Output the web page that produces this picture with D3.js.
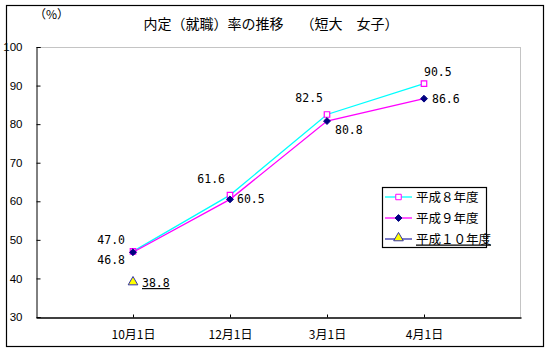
<!DOCTYPE html>
<html>
<head>
<meta charset="utf-8">
<script src="https://cdn.jsdelivr.net/npm/d3@7"></script>
<style>
body { margin: 0; background: #fff; }
</style>
</head>
<body>
<svg width="550" height="354"></svg>
<script>
// categories and values
var categories = ['10月1日', '12月1日', '3月1日', '4月1日'];
var h8 = [47.0, 61.6, 82.5, 90.5];
var h9 = [46.8, 60.5, 80.8, 86.6];
var h10 = [38.8, null, null, null];
var yTicks = [30, 40, 50, 60, 70, 80, 90, 100];
var seriesNames = ['平成８年度', '平成９年度', '平成１０年度'];

var jp = '"Noto Sans CJK JP", sans-serif';
var mono = '"DejaVu Sans Mono", "Liberation Mono", monospace';
var num = '"Liberation Sans", Arial, sans-serif';

var svg = d3.select("svg");

var x = d3.scalePoint()
	.domain(categories)
	.range([36, 521])
	.padding(1);

var y = d3.scaleLinear()
	.domain([30, 100])
	.range([317, 47]);

// outer frame
svg.append("rect")
	.attr("x", 6.5).attr("y", 5.5)
	.attr("width", 537).attr("height", 341)
	.attr("fill", "none").attr("stroke", "#000").attr("stroke-width", 1.2);

// plot area top/right dotted border
svg.append("path")
	.attr("d", "M36.5,47.5 H520.5 V317")
	.attr("fill", "none").attr("stroke", "#888").attr("stroke-dasharray", "1,1");

// axes
var yAxis = d3.axisLeft(y).tickValues(yTicks).tickSize(-4).tickPadding(14);
var gy = svg.append("g").attr("transform", "translate(36.5,0)").call(yAxis);
gy.select(".domain").attr("stroke", "#000");
gy.selectAll("text").attr("font-size", 11.5).attr("font-family", num).attr("fill", "#000");

var xAxis = d3.axisBottom(x).tickSize(-3).tickPadding(13).tickSizeOuter(0);
var gx = svg.append("g").attr("transform", "translate(0,317.5)").call(xAxis);
gx.select(".domain").attr("stroke", "#000").attr("stroke-width", 1.3);
gx.selectAll("text").attr("font-size", 12).attr("font-family", jp).attr("fill", "#000");

// title and unit
svg.append("text").attr("x", 271).attr("y", 29).attr("text-anchor", "middle")
	.attr("font-family", jp).attr("font-size", 14).text("内定（就職）率の推移　 （短大　女子）");
svg.append("text").attr("x", 34).attr("y", 19).attr("font-family", jp).attr("font-size", 12).text("（%）");

var line = d3.line()
	.defined(function(d) { return d != null; })
	.x(function(d, i) { return x(categories[i]); })
	.y(function(d) { return y(d); });

svg.append("path").datum(h8).attr("d", line)
	.attr("fill", "none").attr("stroke", "#00ffff").attr("stroke-width", 1.3);
svg.append("path").datum(h9).attr("d", line)
	.attr("fill", "none").attr("stroke", "#ff00ff").attr("stroke-width", 1.3);

var sq = d3.symbol().type(d3.symbolSquare).size(30);
var dm = d3.symbol().type(d3.symbolDiamond2).size(30);
var tri = d3.symbol().type(d3.symbolTriangle).size(40);

svg.append("g").selectAll("path").data(h8).enter().append("path")
	.attr("d", sq)
	.attr("transform", function(d, i) { return "translate(" + x(categories[i]) + "," + y(d) + ")"; })
	.attr("fill", "#fff").attr("stroke", "#ff00ff").attr("stroke-width", 1.2);
svg.append("g").selectAll("path").data(h9).enter().append("path")
	.attr("d", dm)
	.attr("transform", function(d, i) { return "translate(" + x(categories[i]) + "," + y(d) + ")"; })
	.attr("fill", "#000080").attr("stroke", "#000080");
svg.append("g").selectAll("path").data(h10.filter(function(d) { return d != null; })).enter().append("path")
	.attr("d", tri)
	.attr("transform", function(d, i) { return "translate(" + x(categories[i]) + "," + (y(d) - 1) + ")"; })
	.attr("fill", "#ffff00").attr("stroke", "#3333aa").attr("stroke-width", 1);

// data labels: offsets dx, dy, anchor
function fmt(v) { return v.toFixed(1); }
var labelPos8 = [[-8, -7, "end"], [-5, -12, "end"], [-4, -13, "end"], [0, -8, "start"]];
var labelPos9 = [[-8, 12, "end"], [7, 4, "start"], [8, 13, "start"], [8, 4, "start"]];

svg.append("g").selectAll("text").data(h8).enter().append("text")
	.attr("x", function(d, i) { return x(categories[i]) + labelPos8[i][0]; })
	.attr("y", function(d, i) { return y(d) + labelPos8[i][1]; })
	.attr("text-anchor", function(d, i) { return labelPos8[i][2]; })
	.attr("font-size", 11.5).attr("font-family", mono)
	.text(function(d) { return fmt(d); });
svg.append("g").selectAll("text").data(h9).enter().append("text")
	.attr("x", function(d, i) { return x(categories[i]) + labelPos9[i][0]; })
	.attr("y", function(d, i) { return y(d) + labelPos9[i][1]; })
	.attr("text-anchor", function(d, i) { return labelPos9[i][2]; })
	.attr("font-size", 11.5).attr("font-family", mono)
	.text(function(d) { return fmt(d); });
svg.append("text")
	.attr("x", x(categories[0]) + 9).attr("y", y(h10[0]) + 4)
	.attr("font-size", 11.5).attr("font-family", mono)
	.attr("text-decoration", "underline")
	.text(fmt(h10[0]));

// legend
var legend = svg.append("g");
legend.append("rect").attr("x", 382.5).attr("y", 187.5).attr("width", 104).attr("height", 60)
	.attr("fill", "#fff").attr("stroke", "#000").attr("stroke-width", 1.2);
var legendStroke = ["#00ffff", "#ff00ff", "#3333aa"];
var legendSym = [sq, dm, tri];
var legendFill = ["#fff", "#000080", "#ffff00"];
var legendEdge = ["#ff00ff", "#000080", "#3333aa"];
seriesNames.forEach(function(name, i) {
	var ly = 197 + i * 21;
	legend.append("line").attr("x1", 385).attr("x2", 412).attr("y1", ly).attr("y2", ly)
		.attr("stroke", legendStroke[i]).attr("stroke-width", 1.3);
	legend.append("path").attr("d", legendSym[i])
		.attr("transform", "translate(398.5," + (ly - (i == 2 ? 1 : 0)) + ")")
		.attr("fill", legendFill[i]).attr("stroke", legendEdge[i]);
	legend.append("text").attr("x", 416).attr("y", ly + 4.5).attr("font-size", 12.5)
		.attr("font-family", jp)
		.attr("text-decoration", i == 2 ? "underline" : null)
		.text(name);
});
</script>
</body>
</html>
